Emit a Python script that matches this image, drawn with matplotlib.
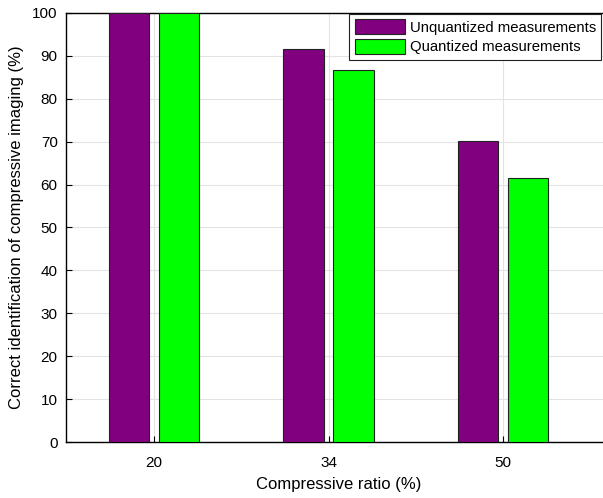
import matplotlib.pyplot as plt
import numpy as np

plt.rcParams['font.family'] = ['Liberation Sans', 'DejaVu Sans']

ratios = ['20', '34', '50']
unquantized = [100.0, 91.5, 70.1]
quantized = [100.0, 86.8, 61.5]

W, H = 603, 498
fig = plt.figure(figsize=(W / 100, H / 100), dpi=100)
# axes run past the right edge of the canvas
left, right, top, bottom = 66, 612, 13, 442
ax = fig.add_axes([left / W, 1 - bottom / H, (right - left) / W, (bottom - top) / H])

x = np.arange(1, len(ratios) + 1)
off, width = 0.143, 0.233
ax.bar(x - off, unquantized, width, color='#800080', edgecolor='#222222',
       linewidth=0.8, label='Unquantized measurements', zorder=3)
ax.bar(x + off, quantized, width, color='#00ff00', edgecolor='#222222',
       linewidth=0.8, label='Quantized measurements', zorder=3)

unit = 174.5
ax.set_xlim(1 - (154 - left) / unit, 3 + (right - 503) / unit)
ax.set_ylim(0, 100)
ax.set_xticks(x)
ax.set_xticklabels(ratios)
ax.set_yticks(np.arange(0, 101, 10))
ax.tick_params(direction='in', labelsize=11, length=4, width=0.8)
ax.tick_params(axis='x', pad=10)
ax.tick_params(axis='y', pad=6)
ax.grid(True, color='#e3e3e3', linewidth=0.8, zorder=0)
ax.set_axisbelow(True)
for s in ax.spines.values():
    s.set_linewidth(1.0)
ax.spines['right'].set_visible(False)

ax.set_xlabel('Compressive ratio (%)', fontsize=12, labelpad=5)
ax.set_ylabel('Correct identification of compressive imaging (%)', fontsize=12, labelpad=6)

leg = ax.legend(loc='upper right', bbox_to_anchor=(601 / W, 1 - 14 / H),
                bbox_transform=fig.transFigure, fontsize=10.7, frameon=True,
                fancybox=False, framealpha=1, edgecolor='#222222',
                borderpad=0.35, handlelength=3.4, handleheight=1.15,
                handletextpad=0.3, labelspacing=0.3, borderaxespad=0)
leg.get_frame().set_linewidth(0.8)

fig.savefig('out.png', dpi=100)
